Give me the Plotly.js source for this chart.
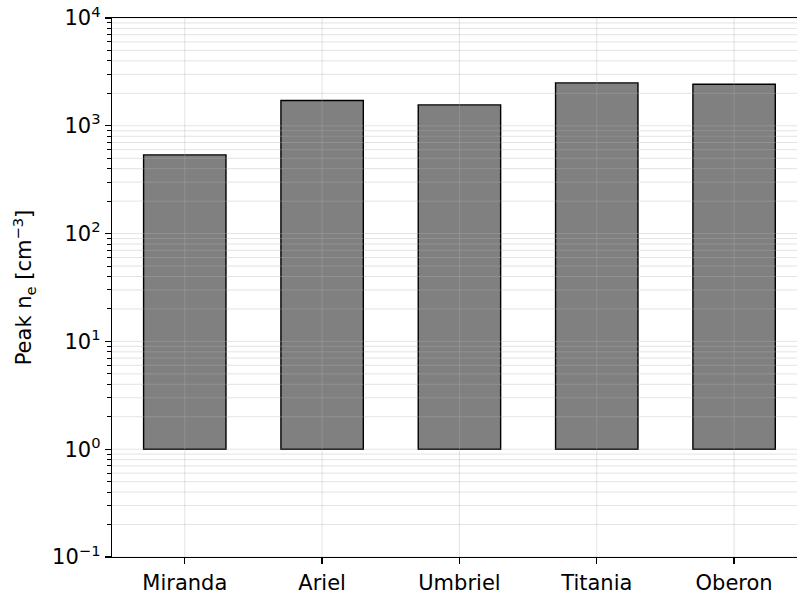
<!DOCTYPE html>
<html>
<head>
<meta charset="utf-8">
<script src="https://cdn.plot.ly/plotly-3.0.1.min.js"></script>
<style>
  html, body { margin: 0; padding: 0; background: #ffffff; }
  #chart { width: 797px; height: 594px; }
</style>
</head>
<body>
<div id="chart"></div>
<script>
// Peak electron density above each major Uranian moon
const moons = ["Miranda", "Ariel", "Umbriel", "Titania", "Oberon"];
const peakDensity = [537, 1714, 1563, 2500, 2432];   // cm^-3
const barBase = 1;                                    // bars rise from 10^0

// Decade ticks on the log axis and their labels
const decadeTicks = [0.1, 1, 10, 100, 1000, 10000];
const decadeLabels = ["10<sup>−1</sup>", "10<sup>0</sup>", "10<sup>1</sup>",
                      "10<sup>2</sup>", "10<sup>3</sup>", "10<sup>4</sup>"];

// Minor ticks 2..9 inside every decade
const minorTicks = [];
for (let d = -1; d < 4; d++) {
  for (let m = 2; m <= 9; m++) minorTicks.push(m * Math.pow(10, d));
}

// Grid lines are laid over the bars, so they are drawn as shapes above the traces
const gridColor = "rgba(176,176,176,0.35)";
const shapes = [];
decadeTicks.concat(minorTicks).forEach(v => {
  shapes.push({
    type: "line", layer: "above", xref: "paper", yref: "y",
    x0: 0, x1: 1, y0: v, y1: v,
    line: { color: gridColor, width: 1 }
  });
});
moons.forEach((m, i) => {
  shapes.push({
    type: "line", layer: "above", xref: "x", yref: "paper",
    x0: i, x1: i, y0: 0, y1: 1,
    line: { color: gridColor, width: 1 }
  });
});

const trace = {
  type: "bar",
  x: moons,
  y: peakDensity.map(v => v - barBase),
  base: barBase,
  width: 0.6,
  marker: { color: "#808080", line: { color: "#000000", width: 1.4 } },
  hoverinfo: "skip"
};

const font = { family: "DejaVu Sans, sans-serif", size: 21, color: "#000000" };

const layout = {
  width: 797,
  height: 594,
  margin: { l: 112, r: 0, t: 18, b: 37 },
  paper_bgcolor: "#ffffff",
  plot_bgcolor: "#ffffff",
  font: font,
  showlegend: false,
  bargap: 0,
  shapes: shapes,
  xaxis: {
    type: "category",
    range: [-0.53, 4.458],
    showgrid: false,
    zeroline: false,
    showline: true,
    mirror: true,
    linecolor: "#000000",
    linewidth: 1.3,
    ticks: "outside",
    ticklen: 6,
    tickwidth: 1.3,
    tickcolor: "#000000",
    tickfont: font
  },
  yaxis: {
    type: "log",
    range: [-1, 4],
    showgrid: false,
    zeroline: false,
    showline: true,
    linecolor: "#000000",
    linewidth: 1.3,
    ticks: "outside",
    ticklen: 6,
    tickwidth: 1.3,
    tickcolor: "#000000",
    tickmode: "array",
    tickvals: decadeTicks,
    ticktext: decadeLabels,
    tickfont: font,
    minor: {
      tickmode: "array",
      tickvals: minorTicks,
      ticks: "outside",
      ticklen: 3.5,
      tickwidth: 1,
      tickcolor: "#000000",
      showgrid: false
    },
    title: {
      text: "Peak n<sub>e</sub> [cm<sup>−3</sup>]",
      font: font,
      standoff: 14
    }
  }
};

Plotly.newPlot("chart", [trace], layout, { staticPlot: true, displayModeBar: false });
</script>
</body>
</html>
